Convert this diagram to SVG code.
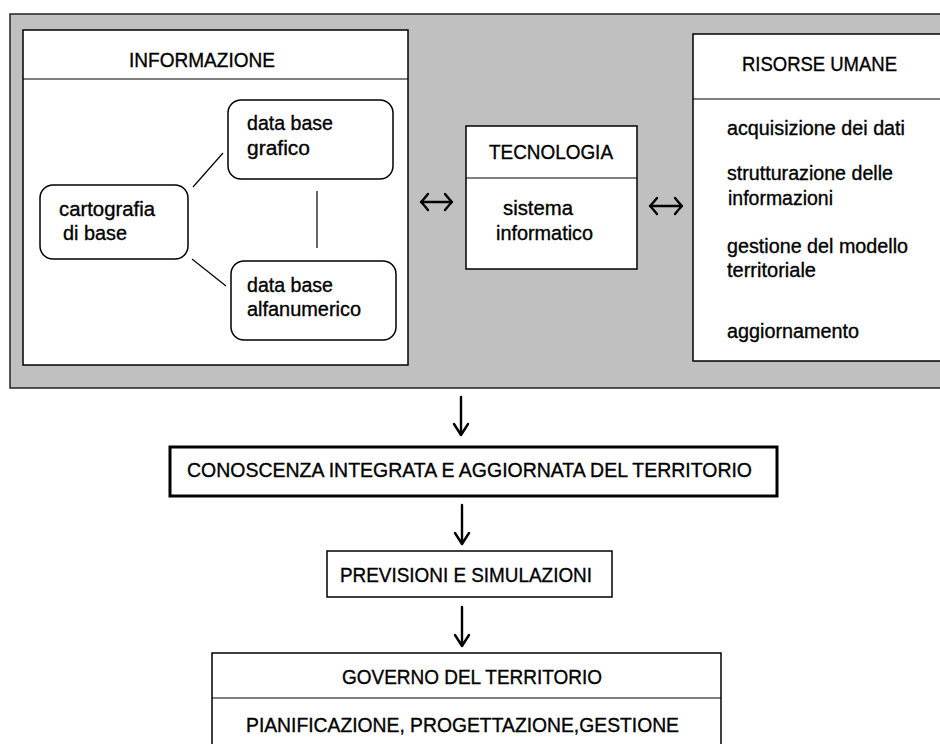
<svg xmlns="http://www.w3.org/2000/svg" width="940" height="744" viewBox="0 0 940 744">
<style>
.t{font-family:"Liberation Sans",Arial,sans-serif;font-size:20.5px;fill:#000;stroke:#000;stroke-width:0.35}
.box{fill:#fff;stroke:#000;stroke-width:1.5}
.ln{stroke:#000;stroke-width:1.2;fill:none}
.ar{stroke:#000;stroke-width:2.4;fill:none;stroke-linecap:round;stroke-linejoin:round}
</style>
<rect width="940" height="744" fill="#fff"/>
<g id="panel">
<rect x="10" y="14" width="940" height="374" fill="#c0c0c0" stroke="#222" stroke-width="1.5"/>
</g>
<g id="informazione">
<rect class="box" x="23" y="30" width="385" height="335"/>
<line class="ln" x1="23" y1="79" x2="408" y2="79" stroke-width="1.5"/>
<text class="t" x="129" y="67" textLength="146" lengthAdjust="spacingAndGlyphs">INFORMAZIONE</text>
</g>
<g id="db-grafico">
<rect class="box" x="228" y="100" width="165" height="79" rx="13"/>
<text class="t" x="247" y="130" textLength="86" lengthAdjust="spacingAndGlyphs">data base</text>
<text class="t" x="247" y="155" textLength="63" lengthAdjust="spacingAndGlyphs">grafico</text>
</g>
<g id="cartografia">
<rect class="box" x="40" y="185" width="148" height="74" rx="13"/>
<text class="t" x="59" y="216" textLength="96" lengthAdjust="spacingAndGlyphs">cartografia</text>
<text class="t" x="63" y="240" textLength="64" lengthAdjust="spacingAndGlyphs">di base</text>
</g>
<g id="db-alfanumerico">
<rect class="box" x="231" y="261" width="165" height="79" rx="13"/>
<text class="t" x="247" y="292" textLength="86" lengthAdjust="spacingAndGlyphs">data base</text>
<text class="t" x="247" y="316" textLength="114" lengthAdjust="spacingAndGlyphs">alfanumerico</text>
</g>
<g id="tecnologia">
<rect class="box" x="466" y="126" width="171" height="143"/>
<line class="ln" x1="466" y1="178" x2="637" y2="178" stroke-width="1.5"/>
<text class="t" x="489" y="159" textLength="124" lengthAdjust="spacingAndGlyphs">TECNOLOGIA</text>
<text class="t" x="503" y="215" textLength="70" lengthAdjust="spacingAndGlyphs">sistema</text>
<text class="t" x="496" y="240" textLength="97" lengthAdjust="spacingAndGlyphs">informatico</text>
</g>
<g id="risorse-umane">
<rect class="box" x="693" y="34" width="260" height="327"/>
<line class="ln" x1="693" y1="99" x2="953" y2="99" stroke-width="1.5"/>
<text class="t" x="742" y="71" textLength="155" lengthAdjust="spacingAndGlyphs">RISORSE UMANE</text>
<text class="t" x="727" y="135" textLength="178" lengthAdjust="spacingAndGlyphs">acquisizione dei dati</text>
<text class="t" x="727" y="180" textLength="166" lengthAdjust="spacingAndGlyphs">strutturazione delle</text>
<text class="t" x="728" y="205" textLength="105" lengthAdjust="spacingAndGlyphs">informazioni</text>
<text class="t" x="727" y="253" textLength="181" lengthAdjust="spacingAndGlyphs">gestione del modello</text>
<text class="t" x="727" y="277" textLength="89" lengthAdjust="spacingAndGlyphs">territoriale</text>
<text class="t" x="727" y="338" textLength="132" lengthAdjust="spacingAndGlyphs">aggiornamento</text>
</g>
<g id="conoscenza">
<rect x="170" y="447" width="607" height="49" fill="#fff" stroke="#000" stroke-width="3"/>
<text class="t" x="187" y="477" textLength="565" lengthAdjust="spacingAndGlyphs">CONOSCENZA INTEGRATA E AGGIORNATA DEL TERRITORIO</text>
</g>
<g id="previsioni">
<rect class="box" x="327" y="551" width="285" height="46"/>
<text class="t" x="340" y="582" textLength="252" lengthAdjust="spacingAndGlyphs">PREVISIONI E SIMULAZIONI</text>
</g>
<g id="governo">
<rect class="box" x="212" y="653" width="509" height="100"/>
<line class="ln" x1="212" y1="698" x2="721" y2="698" stroke-width="1.5"/>
<text class="t" x="342" y="684" textLength="260" lengthAdjust="spacingAndGlyphs">GOVERNO DEL TERRITORIO</text>
<text class="t" x="246" y="732" textLength="433" lengthAdjust="spacingAndGlyphs">PIANIFICAZIONE, PROGETTAZIONE,GESTIONE</text>
</g>
<g id="connectors">
<line class="ln" x1="193" y1="187" x2="223" y2="153"/>
<line class="ln" x1="317" y1="191" x2="317" y2="248"/>
<line class="ln" x1="192" y1="259" x2="226" y2="286"/>
<path class="ar" d="M421 202 H452 M428 194 Q424 199 421 202 Q424 205 428 210 M445 194 Q449 199 452 202 Q449 205 445 210"/>
<path class="ar" d="M650 206 H682 M657 198 Q653 203 650 206 Q653 209 657 214 M675 198 Q679 203 682 206 Q679 209 675 214"/>
<path class="ar" d="M461 397 V435 M454 424 L461 435 L468 424"/>
<path class="ar" d="M462 505 V544 M455 533 L462 544 L469 533"/>
<path class="ar" d="M462 607 V646 M455 635 L462 646 L469 635"/>
</g>
</svg>
